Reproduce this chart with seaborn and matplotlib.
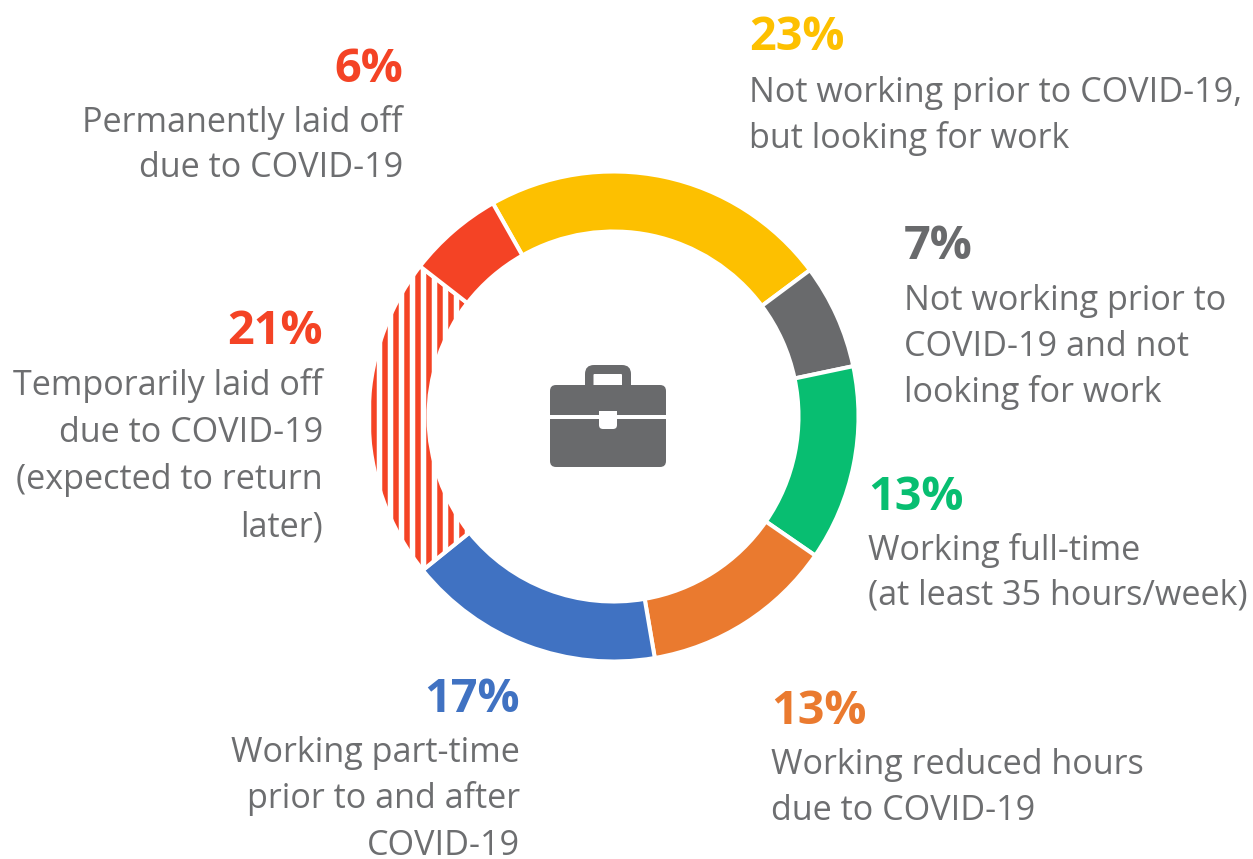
import seaborn as sns
import matplotlib
matplotlib.use('Agg')
import matplotlib.pyplot as plt
from matplotlib.patches import FancyBboxPatch

sns.set_theme(style='white')
plt.rcParams['font.family'] = ['Open Sans', 'DejaVu Sans']
plt.rcParams['hatch.linewidth'] = 3.0

# slices, clockwise from the yellow one
categories = ['looking', 'not looking', 'full-time', 'reduced', 'part-time', 'temporary', 'permanent']
shares = [23.0, 6.9, 12.9, 12.7, 16.9, 21.3, 6.3]
pct_labels = ['23%', '7%', '13%', '13%', '17%', '21%', '6%']
desc_labels = [
    ['Not working prior to COVID-19,', 'but looking for work'],
    ['Not working prior to', 'COVID-19 and not', 'looking for work'],
    ['Working full-time', '(at least 35 hours/week)'],
    ['Working reduced hours', 'due to COVID-19'],
    ['Working part-time', 'prior to and after', 'COVID-19'],
    ['Temporarily laid off', 'due to COVID-19', '(expected to return', 'later)'],
    ['Permanently laid off', 'due to COVID-19'],
]
colors = ['#FDC000', '#696A6C', '#08BE71', '#EA7A2F', '#4072C2', '#F44325', '#F44325']
palette = sns.color_palette(colors)

TEXT = '#6D6E70'
ICON = '#696A6C'
W, H = 1253, 859
DPI = 132

# x, baseline of the percent, baseline of first text line, line pitch, alignment
label_pos = [
    (749, 50, 102, 45.5, 'left'),
    (904, 259, 310, 46, 'left'),
    (868, 510, 560, 45, 'left'),
    (771, 724, 774, 46, 'left'),
    (520, 712, 762, 46.5, 'right'),
    (323, 344, 395, 47, 'right'),
    (403, 82, 132, 45, 'right'),
]


def py(y):
    return H - y


fig = plt.figure(figsize=(W / DPI, H / DPI), dpi=DPI)
ax = fig.add_axes([0, 0, 1, 1])

wedges, _ = ax.pie(shares, colors=palette, startangle=119.5, counterclock=False,
                   center=(613.5, py(416.5)), radius=245,
                   wedgeprops=dict(width=60, edgecolor='white', linewidth=2.2))

# temporary layoffs are striped, white hatch over the red face
striped = wedges[categories.index('temporary')]
striped.set_hatch('||')

ax.set_xlim(0, W)
ax.set_ylim(0, H)
ax.set_aspect('equal')
ax.axis('off')

for pct, lines, col, (x, y0, y1, pitch, ha) in zip(pct_labels, desc_labels, colors, label_pos):
    ax.text(x, py(y0), pct, color=col, fontsize=25.5, fontweight='bold', ha=ha, va='baseline')
    for i, line in enumerate(lines):
        ax.text(x, py(y1 + i * pitch), line, color=TEXT, fontsize=18.65, ha=ha, va='baseline')


# briefcase icon in the middle
def box(x0, y0, x1, y1, col, r=5, z=3):
    ax.add_patch(FancyBboxPatch((x0 + r, py(y1) + r), x1 - x0 - 2 * r, y1 - y0 - 2 * r,
                                boxstyle=f'round,pad={r}', fc=col, ec='none', zorder=z))


box(585, 365, 631, 395, ICON, r=9, z=3)
box(593.5, 374, 622, 390, 'white', r=1, z=4)
box(550, 385, 666, 467, ICON, r=6, z=5)
ax.fill_between([550, 666], py(419), py(415), color='white', lw=0, zorder=6)
box(599, 411, 617, 429, 'white', r=4, z=6)
ax.fill_between([599, 617], py(416), py(411), color='white', lw=0, zorder=6)

fig.savefig('out.png', dpi=DPI, facecolor='white')
